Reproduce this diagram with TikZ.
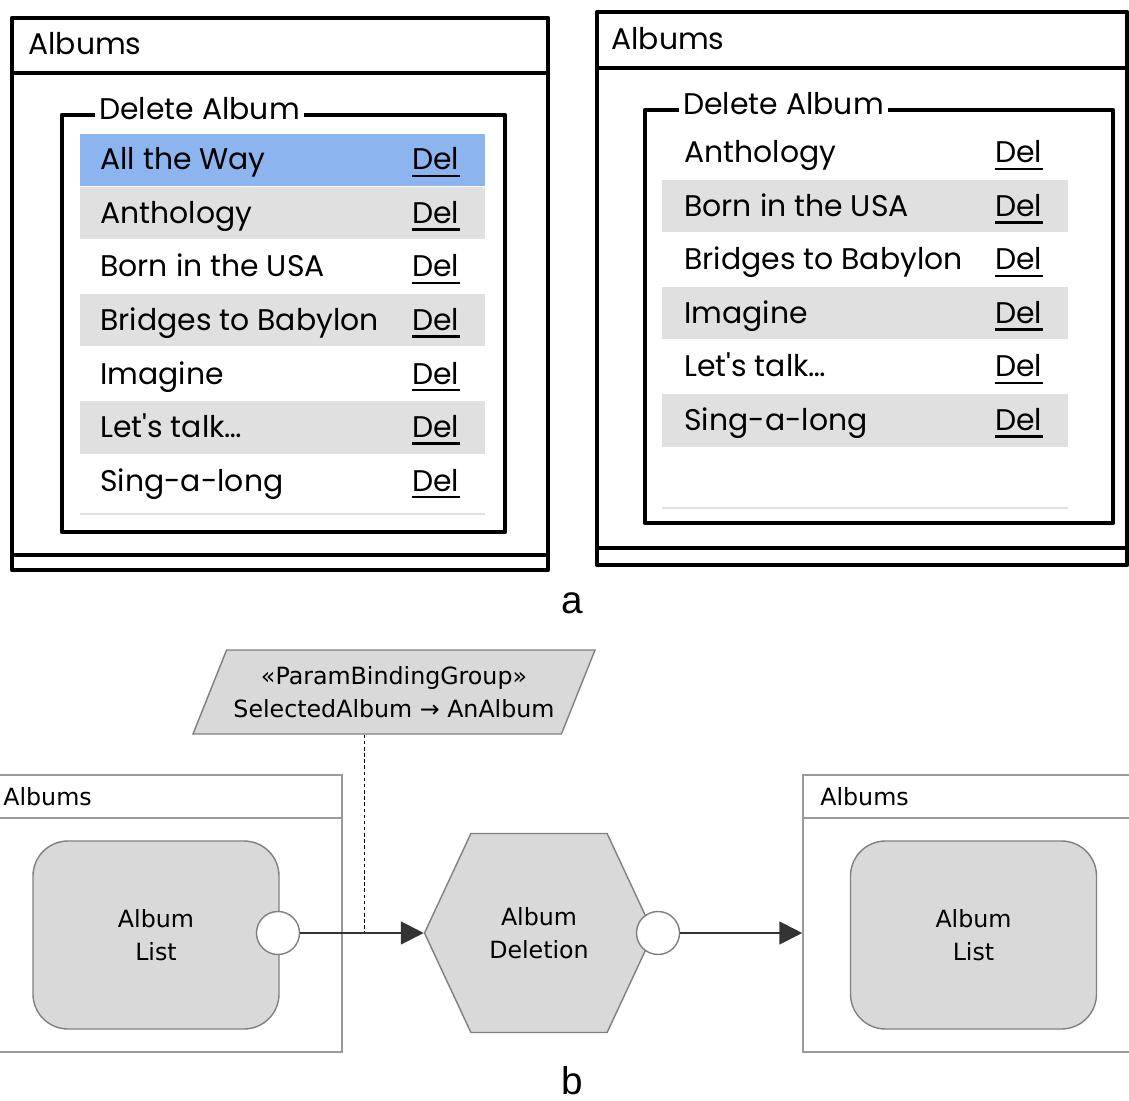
\documentclass[tikz,border=0pt]{standalone}
\usepackage{fontspec}
\setmainfont{DejaVu Sans}
\newfontfamily\sketchfont{Poppins}
\newfontfamily\labelfont{Liberation Sans}
\usetikzlibrary{positioning, shapes.geometric, shapes.symbols, arrows.meta}

\newlength\unitpx
\setlength\unitpx{0.02cm}

\definecolor{rowgray}{HTML}{E0E0E0}
\definecolor{rowblue}{HTML}{8CB4EE}
\definecolor{shapegray}{HTML}{D9D9D9}
\definecolor{linegray}{HTML}{808080}
\definecolor{framegray}{HTML}{9A9A9A}

\tikzset{
	sketch/.style={line width=2.4pt, line cap=round, line join=round},
	sketchtext/.style={font=\sketchfont\fontsize{17}{17}\selectfont, anchor=base west, inner sep=0pt},
	legend/.style={sketchtext, fill=white, inner xsep=4\unitpx, inner ysep=2\unitpx},
	frame/.style={draw=framegray, line width=0.9pt},
	uitext/.style={font=\fontsize{13.5}{19}\selectfont, align=center},
	state/.style={uitext, draw=linegray, fill=shapegray, line width=0.8pt, rounded corners=35\unitpx,
		minimum width=246\unitpx, minimum height=188\unitpx},
	port/.style={circle, draw=linegray, fill=white, line width=0.8pt, minimum size=43\unitpx, inner sep=0pt},
	hexa/.style={uitext, signal, signal to=west and east, signal pointer angle=130, draw=linegray,
		fill=shapegray, line width=0.8pt, minimum width=229\unitpx, minimum height=199\unitpx, inner sep=0pt},
	binding/.style={uitext, trapezium, trapezium left angle=57, trapezium right angle=123,
		trapezium stretches body, draw=linegray, fill=shapegray, line width=0.8pt,
		minimum width=402\unitpx, minimum height=84\unitpx, inner sep=0pt},
	flow/.style={line width=1.1pt, draw=black!80, -{Triangle[length=13pt, width=13pt]}},
	panellabel/.style={font=\labelfont\fontsize{22}{22}\selectfont, inner sep=0pt}
}

\begin{document}
\begin{tikzpicture}[x=\unitpx, y=-\unitpx]

	\useasboundingbox (0,0) rectangle (1129,1101);

	% a: left screen
	\foreach \name [count=\i from 0] in {All the Way, Anthology, Born in the USA, Bridges to Babylon, Imagine, Let's talk\ldots, Sing-a-long} {
		\pgfmathsetmacro\yt{134+53.5*\i}
		\ifnum\i=0 \fill[rowblue] (80,\yt) rectangle (485,\yt+52);
		\else\ifodd\i \fill[rowgray] (80,\yt) rectangle (485,\yt+52); \fi\fi
		\node[sketchtext] (rowL\i) at (100,\yt+36) {\name};
		\node[sketchtext] (delL\i) at (412,\yt+36) {Del};
		\draw[line width=1.4pt] ([yshift=-3.5pt]delL\i.base west) -- ([yshift=-3.5pt]delL\i.base east);
	}
	\draw[rowgray, line width=1.5pt] (80,514) -- (485,514);
	\draw[sketch] (12,18) rectangle (548,570);
	\draw[sketch] (12,73) -- (548,73);
	\draw[sketch] (12,555) -- (548,555);
	\node[sketchtext] (titleL) at (28,55) {Albums};
	\draw[sketch] (62,115) rectangle (505,532);
	\node[legend] (legL) at (95,120) {Delete Album};

	% a: right screen
	\foreach \name [count=\i from 0] in {Anthology, Born in the USA, Bridges to Babylon, Imagine, Let's talk\ldots, Sing-a-long} {
		\pgfmathsetmacro\yt{127+53.5*\i}
		\ifodd\i \fill[rowgray] (662,\yt) rectangle (1068,\yt+52); \fi
		\node[sketchtext] (rowR\i) at (684,\yt+36) {\name};
		\node[sketchtext] (delR\i) at (995,\yt+36) {Del};
		\draw[line width=1.4pt] ([yshift=-3.5pt]delR\i.base west) -- ([yshift=-3.5pt]delR\i.base east);
	}
	\draw[rowgray, line width=1.5pt] (662,508) -- (1068,508);
	\draw[sketch] (597,12) rectangle (1127,565);
	\draw[sketch] (597,68) -- (1127,68);
	\draw[sketch] (597,548) -- (1127,548);
	\node[sketchtext] (titleR) at (611,50) {Albums};
	\draw[sketch] (645,110) rectangle (1113,523);
	\node[legend] (legR) at (679,115) {Delete Album};

	\node[panellabel] (labA) at (572,603) {a};

	% b: flow
	\node[frame, minimum width=346\unitpx, minimum height=277\unitpx] (frameL) at (169,913.5) {};
	\draw[frame] ([yshift=-44\unitpx]frameL.north west) -- ([yshift=-44\unitpx]frameL.north east);
	\node[uitext, anchor=base west, inner sep=0pt] (titleBL) at (3,805) {Albums};

	\node[frame, minimum width=332\unitpx, minimum height=277\unitpx] (frameR) at (969,913.5) {};
	\draw[frame] ([yshift=-44\unitpx]frameR.north west) -- ([yshift=-44\unitpx]frameR.north east);
	\node[uitext, anchor=base west, inner sep=0pt] (titleBR) at (820,805) {Albums};

	\node[state] (listL) at (156,935) {Album\\List};
	\node[state] (listR) at (973.5,935) {Album\\List};
	\node[hexa] (del) at (539,933) {Album\\Deletion};
	\node[port] (portL) at (278,933) {};
	\node[port] (portR) at (658,933) {};
	\node[binding] (bind) at (394,692) {«ParamBindingGroup»\\SelectedAlbum → AnAlbum};
	\coordinate (join) at (364,933);

	\draw[dashed, dash pattern=on 2pt off 1.5pt] (bind.south -| join) -- (join);
	\draw[flow] (portL) -- (del);
	\draw[flow] (portR) -- (portR -| frameR.west);

	\node[panellabel] (labB) at (572,1081) {b};

\end{tikzpicture}
\end{document}
